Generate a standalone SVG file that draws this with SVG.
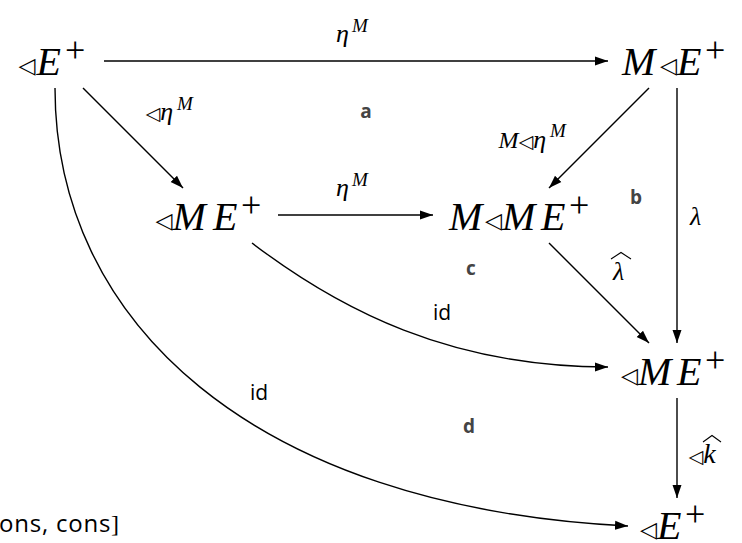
<svg xmlns="http://www.w3.org/2000/svg" width="742" height="543" viewBox="0 0 742 543">
<defs>
<marker id="ah" markerWidth="14" markerHeight="10" refX="13" refY="5" orient="auto" markerUnits="userSpaceOnUse">
<path d="M0,0.5 L13,5 L0,9.5 Z" fill="#000"/>
</marker>
<style>
.n{font-family:"Liberation Serif",serif;font-style:italic;font-size:40px;fill:#000}
.tri{font-family:"DejaVu Sans",sans-serif;font-style:normal;font-size:22px}
.pl{font-style:normal;font-size:36px}
.m{font-family:"Liberation Serif",serif;font-style:italic;font-size:26px;fill:#000}
.ms{font-size:19px}
.tr{font-family:"DejaVu Sans",sans-serif;font-style:normal;font-size:19px}
.s{font-family:"Open Sans","Liberation Sans",sans-serif;font-size:19px;font-weight:bold;fill:#444;text-anchor:middle}
.id{font-family:"Open Sans","Liberation Sans",sans-serif;font-size:21px;fill:#000}
.e{fill:none;stroke:#000;stroke-width:1.4;marker-end:url(#ah)}
.hat{fill:none;stroke:#000;stroke-width:1.1}
</style>
</defs>
<g id="connectors">
<line class="e" x1="104" y1="61" x2="608" y2="61"/>
<line class="e" x1="83" y1="88" x2="183" y2="188"/>
<line class="e" x1="649" y1="88" x2="549" y2="188"/>
<line class="e" x1="677" y1="88" x2="677" y2="343"/>
<line class="e" x1="278" y1="215" x2="433" y2="215"/>
<line class="e" x1="549" y1="243" x2="649" y2="343"/>
<path class="e" d="M252,243 C340,310 450,367 608,367"/>
<path class="e" d="M55,88 C55,320 250,507 628,526"/>
<line class="e" x1="677" y1="398" x2="677" y2="498"/>
<text class="m" y="42"><tspan x="336">η</tspan><tspan class="ms" x="352" y="32">M</tspan></text>
<text class="m" y="120"><tspan class="tr" x="145.6" y="120">◁</tspan><tspan y="120">η</tspan><tspan class="ms" x="177" y="110">M</tspan></text>
<text class="m" x="498.6" y="148"><tspan font-size="24">M</tspan><tspan class="tr">◁</tspan><tspan>η</tspan><tspan class="ms" x="550" y="137">M</tspan></text>
<text class="m" y="196"><tspan x="336">η</tspan><tspan class="ms" x="352" y="186">M</tspan></text>
<text class="m" x="690" y="225">λ</text>
<text class="m" x="613" y="280">λ</text>
<path class="hat" d="M611,259 L621,252.5 L631,259"/>
<text class="m" x="688.6" y="463"><tspan class="tr">◁</tspan><tspan font-size="28">k</tspan></text>
<path class="hat" d="M703,442 L712,435.5 L721,442"/>
<text class="id" x="433" y="320">id</text>
<text class="id" x="250" y="400">id</text>
</g>
<g id="faces">
<text class="s" x="366" y="118">a</text>
<text class="s" x="636" y="204">b</text>
<text class="s" x="471" y="275">c</text>
<text class="s" x="469" y="433">d</text>
</g>
<g id="nA"><text class="n" x="18.5" y="75"><tspan class="tri" dy="-2">◁</tspan><tspan dx="1" dy="2">E</tspan><tspan class="pl" x="65" y="62">+</tspan></text></g>
<g id="nB"><text class="n" x="622" y="75"><tspan>M</tspan><tspan class="tri" x="660" dy="-2">◁</tspan><tspan dy="2">E</tspan><tspan class="pl" x="705" y="62">+</tspan></text></g>
<g id="nC"><text class="n" x="155.5" y="230"><tspan class="tri" dy="-2">◁</tspan><tspan dy="2">M</tspan><tspan x="213">E</tspan><tspan class="pl" x="241" y="217">+</tspan></text></g>
<g id="nD"><text class="n" x="449" y="230"><tspan>M</tspan><tspan class="tri" x="485" dy="-2">◁</tspan><tspan dy="2">M</tspan><tspan x="541">E</tspan><tspan class="pl" x="569" y="217">+</tspan></text></g>
<g id="nE"><text class="n" x="621" y="385"><tspan class="tri" dy="-2">◁</tspan><tspan dy="2">M</tspan><tspan x="677">E</tspan><tspan class="pl" x="705" y="372">+</tspan></text></g>
<g id="nF"><text class="n" x="640" y="539"><tspan class="tri" dy="-2">◁</tspan><tspan dy="2">E</tspan><tspan class="pl" x="685" y="526">+</tspan></text></g>
<g id="frag"><text x="-1" y="532" font-family="'Open Sans','Liberation Sans',sans-serif" font-size="24" letter-spacing="0.8" fill="#000">ons, cons</text><text x="111" y="532" font-family="'Liberation Serif',serif" font-size="24" fill="#000">]</text></g>
</svg>
